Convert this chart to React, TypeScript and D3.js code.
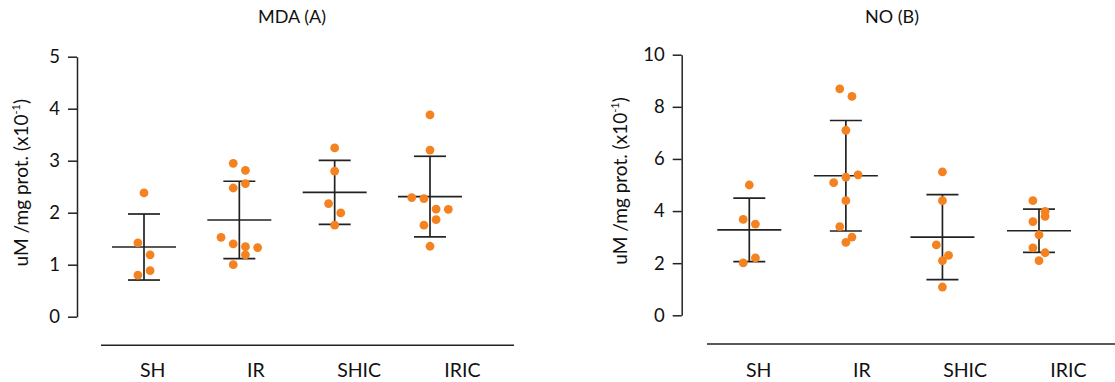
import React, { useEffect, useRef } from 'react'
import * as d3 from 'd3'

const categories = ['SH', 'IR', 'SHIC', 'IRIC']

// MDA (A) individual values
const mdaSH = [2.38, 1.42, 1.19, 0.885, 0.8]
const mdaIR = [2.95, 2.815, 2.56, 2.475, 1.527, 1.4, 1.346, 1.33, 1.19, 1.0]
const mdaSHIC = [3.245, 2.8, 2.175, 1.995, 1.76]
const mdaIRIC = [3.88, 3.205, 2.29, 2.27, 2.07, 2.065, 1.865, 1.76, 1.355]
const mdaMean = [1.34, 1.86, 2.39, 2.31]
const mdaSD = [0.635, 0.745, 0.615, 0.775]
const mdaTicks = [0, 1, 2, 3, 4, 5]

// NO (B) individual values
const noSH = [5.0, 3.68, 3.5, 2.2, 2.01]
const noIR = [8.69, 8.4, 7.1, 5.39, 5.305, 5.09, 4.4, 3.4, 3.0, 2.8]
const noSHIC = [5.5, 4.4, 2.7, 2.3, 2.095, 1.085]
const noIRIC = [4.4, 3.99, 3.8, 3.595, 3.09, 2.59, 2.4, 2.095]
const noMean = [3.28, 5.355, 3.0, 3.245]
const noSD = [1.22, 2.12, 1.63, 0.83]
const noTicks = [0, 2, 4, 6, 8, 10]

const FONT = 'Lato, "Open Sans", sans-serif'
const DOT = '#f58220'

interface Panel {
  title: string
  groups: number[][]
  means: number[]
  sds: number[]
  ticks: number[]
  axisX: number
  top: number
  bottom: number
  firstX: number
  lastX: number
  baseY: number
  baseX0: number
  baseX1: number
  labelX: number
  titleX: number
}

const panels: Panel[] = [
  {
    title: 'MDA (A)',
    groups: [mdaSH, mdaIR, mdaSHIC, mdaIRIC],
    means: mdaMean,
    sds: mdaSD,
    ticks: mdaTicks,
    axisX: 77,
    top: 56.7,
    bottom: 316.7,
    firstX: 144,
    lastX: 430,
    baseY: 345.3,
    baseX0: 101,
    baseX1: 514,
    labelX: 27.5,
    titleX: 292,
  },
  {
    title: 'NO (B)',
    groups: [noSH, noIR, noSHIC, noIRIC],
    means: noMean,
    sds: noSD,
    ticks: noTicks,
    axisX: 681.7,
    top: 54.7,
    bottom: 315.3,
    firstX: 749.3,
    lastX: 1039,
    baseY: 344,
    baseX0: 707,
    baseX1: 1120,
    labelX: 627,
    titleX: 892,
  },
]

// prism-like scatter: points close in y share a row and spread sideways
function swarm(values: number[], y: d3.ScaleLinear<number, number>, step: number) {
  const sorted = values.map((v, i) => ({ v, i })).sort((a, b) => b.v - a.v)
  const out = new Array(values.length).fill(0)
  let bin: { v: number; i: number }[] = []
  let flip = false
  const flush = () => {
    if (!bin.length) return
    const n = bin.length
    const order = n > 1 && flip ? [...bin].reverse() : bin
    order.forEach((p, k) => (out[p.i] = (k - (n - 1) / 2) * step))
    if (n > 1) flip = !flip
    bin = []
  }
  sorted.forEach((p) => {
    if (bin.length && Math.abs(y(p.v) - y(bin[0].v)) > 12.5) flush()
    bin.push(p)
  })
  flush()
  return out
}

export default function App() {
  const svgRef = useRef<SVGSVGElement>(null)

  useEffect(() => {
    if (!svgRef.current) return
    const svg = d3.select(svgRef.current)
    svg.selectAll('*').remove()

    panels.forEach((p) => {
      const g = svg.append('g')
      const y = d3.scaleLinear().domain([0, d3.max(p.ticks)!]).range([p.bottom, p.top])
      const x = d3.scalePoint<string>().domain(categories).range([p.firstX, p.lastX])
      const xl = d3.scalePoint<string>().domain(categories).range([p.baseX0, p.baseX1]).padding(0.5)

      // y axis
      const ya = g
        .append('g')
        .attr('transform', `translate(${p.axisX},0)`)
        .call(
          d3
            .axisLeft(y)
            .tickValues(p.ticks)
            .tickFormat(d3.format('d'))
            .tickSize(9)
            .tickSizeOuter(0)
            .tickPadding(8),
        )
      ya.selectAll('path, line').attr('stroke', '#222').attr('stroke-width', 1.5)
      ya.selectAll('text')
        .attr('font-family', FONT)
        .attr('font-size', 18.5)
        .attr('fill', '#111')

      // baseline + category labels
      g.append('line')
        .attr('x1', p.baseX0)
        .attr('x2', p.baseX1)
        .attr('y1', p.baseY)
        .attr('y2', p.baseY)
        .attr('stroke', '#222')
        .attr('stroke-width', 1.5)
      g.selectAll('.cat')
        .data(categories)
        .enter()
        .append('text')
        .attr('x', (d) => xl(d)!)
        .attr('y', 377)
        .attr('text-anchor', 'middle')
        .attr('font-family', FONT)
        .attr('font-size', 19.5)
        .attr('fill', '#111')
        .text((d) => d)

      // title
      g.append('text')
        .attr('x', p.titleX)
        .attr('y', 23)
        .attr('text-anchor', 'middle')
        .attr('font-family', FONT)
        .attr('font-size', 18)
        .attr('fill', '#111')
        .text(p.title)

      // y label
      const yl = g
        .append('text')
        .attr('transform', `translate(${p.labelX},${(p.top + p.bottom) / 2 - 4}) rotate(-90)`)
        .attr('text-anchor', 'middle')
        .attr('font-family', FONT)
        .attr('font-size', 19)
        .attr('fill', '#111')
      yl.append('tspan').text('uM /mg prot. (x10')
      yl.append('tspan').attr('font-size', 11).attr('dy', -8).text('-1')
      yl.append('tspan').attr('dy', 8).text(')')

      // mean +/- SD
      categories.forEach((c, i) => {
        const cx = x(c)!
        const m = p.means[i]
        const s = p.sds[i]
        const lines = [
          [cx - 32, cx + 32, y(m), y(m)],
          [cx - 16, cx + 16, y(m + s), y(m + s)],
          [cx - 16, cx + 16, y(m - s), y(m - s)],
          [cx, cx, y(m + s), y(m - s)],
        ]
        lines.forEach(([x1, x2, y1, y2]) =>
          g
            .append('line')
            .attr('x1', x1)
            .attr('x2', x2)
            .attr('y1', y1)
            .attr('y2', y2)
            .attr('stroke', '#222')
            .attr('stroke-width', 1.7),
        )
      })

      // points
      p.groups.forEach((vals, i) => {
        const cx = x(categories[i])!
        const off = swarm(vals, y, 12.2)
        g.selectAll(`.pt${i}`)
          .data(vals)
          .enter()
          .append('circle')
          .attr('cx', (_, k) => cx + off[k])
          .attr('cy', (d) => y(d))
          .attr('r', 4.4)
          .attr('fill', DOT)
      })
    })
  }, [])

  return (
    <svg
      ref={svgRef}
      width={1115}
      height={382}
      style={{ position: 'absolute', left: 0, top: 0, background: '#fff' }}
    />
  )
}
